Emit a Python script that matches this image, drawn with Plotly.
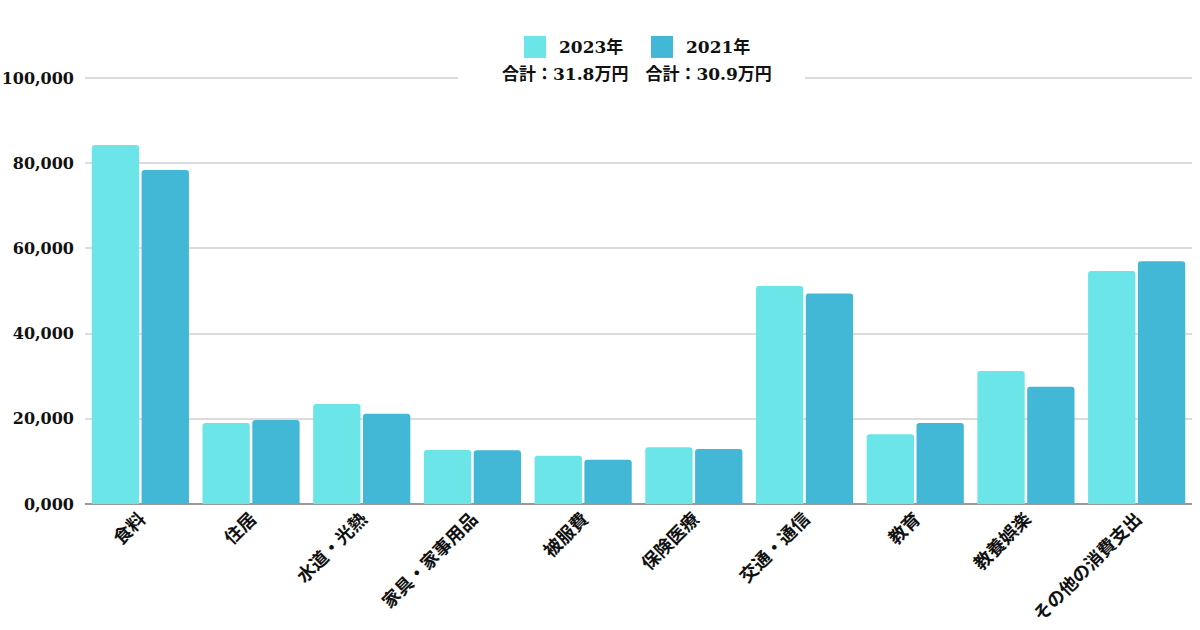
import plotly.graph_objects as go

categories = ["食料", "住居", "水道・光熱", "家具・家事用品", "被服費", "保険医療",
              "交通・通信", "教育", "教養娯楽", "その他の消費支出"]
values_2023 = [84300, 19000, 23500, 12700, 11300, 13300, 51200, 16400, 31200, 54700]
values_2021 = [78400, 19700, 21200, 12600, 10400, 12900, 49400, 19000, 27500, 57000]
series_names = ["2023年", "2021年"]
totals_text = "合計：31.8万円　合計：30.9万円"
y_tickvals = [0, 20000, 40000, 60000, 80000, 100000]
y_ticktext = ["0,000", "20,000", "40,000", "60,000", "80,000", "100,000"]

c2023 = "#6BE5E8"
c2021 = "#42B7D6"
FONT = "DejaVu Serif, Noto Sans CJK JP, serif"
TXT = "#111"

# plot area in pixels
L, R, T, B = 85, 1192, 78, 504
W, H = 1200, 630


def px_x(p):
    return (p - L) / (R - L)


def px_y(p):
    return (B - p) / (B - T)


fig = go.Figure()
fig.add_trace(go.Bar(x=categories, y=values_2023, name=series_names[0],
                     marker=dict(color=c2023, cornerradius=3, line=dict(width=0))))
fig.add_trace(go.Bar(x=categories, y=values_2021, name=series_names[1],
                     marker=dict(color=c2021, cornerradius=3, line=dict(width=0))))

# white backdrop behind the legend block (covers the top gridline)
fig.add_shape(type="rect", xref="paper", yref="paper", layer="above",
              x0=px_x(458), x1=px_x(805), y0=px_y(88), y1=px_y(30),
              fillcolor="white", line=dict(width=0))
# legend swatches + labels
for nm, col, sx in zip(series_names, [c2023, c2021], [524, 651]):
    fig.add_shape(type="rect", xref="paper", yref="paper", layer="above",
                  x0=px_x(sx), x1=px_x(sx + 22), y0=px_y(59), y1=px_y(37),
                  fillcolor=col, line=dict(width=0))
    fig.add_annotation(text=nm, xref="paper", yref="paper", x=px_x(sx + 33), y=px_y(48),
                       xanchor="left", yanchor="middle", showarrow=False,
                       font=dict(family=FONT, size=17, color=TXT, weight="bold"))

fig.add_annotation(text=totals_text, xref="paper", yref="paper",
                   x=px_x(637), y=px_y(75), xanchor="center", yanchor="middle",
                   showarrow=False,
                   font=dict(family=FONT, size=17, color=TXT, weight="bold"))

fig.update_layout(
    width=W, height=H,
    margin=dict(l=L, r=W - R, t=T - 1, b=H - B),
    paper_bgcolor="white", plot_bgcolor="white",
    barmode="group", bargap=0.1, bargroupgap=0.05,
    showlegend=False,
    font=dict(family=FONT, size=17, color=TXT, weight="bold"),
    xaxis=dict(tickangle=-45, tickfont=dict(family=FONT, size=18, color=TXT, weight="bold"),
               showgrid=False, showline=False, ticks="", fixedrange=True, automargin=False),
    yaxis=dict(range=[0, 100250], tickvals=y_tickvals, ticktext=y_ticktext,
               tickfont=dict(family=FONT, size=16, color=TXT, weight="bold"),
               showgrid=True, gridcolor="#dcdcdc", gridwidth=1.5,
               zeroline=True, zerolinecolor="#999", zerolinewidth=2,
               ticks="", ticklabelstandoff=10, showline=False, automargin=False),
)

fig.write_html("out.html")
